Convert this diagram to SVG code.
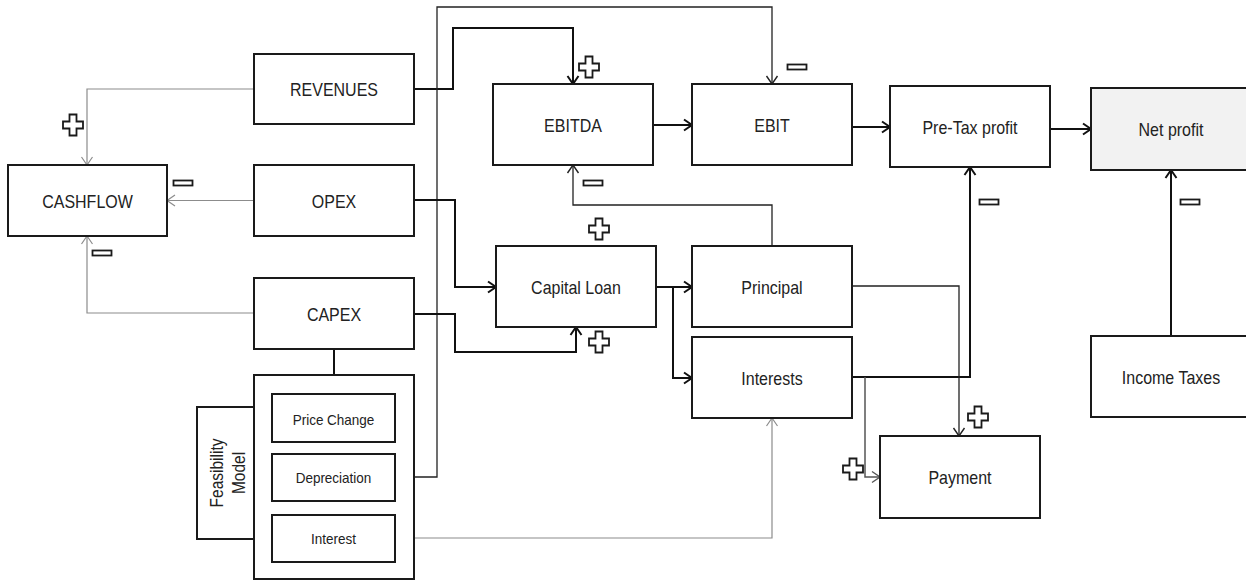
<svg xmlns="http://www.w3.org/2000/svg" width="1246" height="581" viewBox="0 0 1246 581">
  <style>
    .box { fill: #fff; stroke: #1a1a1a; stroke-width: 2; }
    .shade { fill: #f2f2f2; }
    .lbl { font-family: "Liberation Sans", Arial, sans-serif; font-size: 16px; fill: #222; text-anchor: middle; }
    .sm { font-size: 13.5px; }
    .side { font-size: 15.5px; }
    .thick { fill: none; stroke: #111; stroke-width: 2; }
    .thin { fill: none; stroke: #222; stroke-width: 1.3; }
    .mid { fill: none; stroke: #555; stroke-width: 1.5; }
    .grey { fill: none; stroke: #8c8c8c; stroke-width: 1.2; }
    .sign { fill: #fff; stroke: #1a1a1a; stroke-width: 1.8; }
  </style>
  <defs>
    <marker id="ahK" viewBox="-10 -7 12 14" refX="0" refY="0" markerWidth="12" markerHeight="14" orient="auto" markerUnits="userSpaceOnUse">
      <path d="M-8,-5.5 L0,0 L-8,5.5" fill="none" stroke="#111" stroke-width="2"/>
    </marker>
    <marker id="ahT" viewBox="-10 -7 12 14" refX="0" refY="0" markerWidth="12" markerHeight="14" orient="auto" markerUnits="userSpaceOnUse">
      <path d="M-8,-5.5 L0,0 L-8,5.5" fill="none" stroke="#222" stroke-width="1.4"/>
    </marker>
    <marker id="ahM" viewBox="-10 -7 12 14" refX="0" refY="0" markerWidth="12" markerHeight="14" orient="auto" markerUnits="userSpaceOnUse">
      <path d="M-8,-5.5 L0,0 L-8,5.5" fill="none" stroke="#555" stroke-width="1.4"/>
    </marker>
    <marker id="ahG" viewBox="-10 -7 12 14" refX="0" refY="0" markerWidth="12" markerHeight="14" orient="auto" markerUnits="userSpaceOnUse">
      <path d="M-8,-5.5 L0,0 L-8,5.5" fill="none" stroke="#8c8c8c" stroke-width="1.2"/>
    </marker>
    <path id="plus" class="sign" d="M-3.5,-10.5 H3.5 V-3.5 H10 V3.5 H3.5 V10.5 H-3.5 V3.5 H-10 V-3.5 H-3.5 Z"/>
    <rect id="minus" class="sign" x="-9.5" y="-2.5" width="19" height="5"/>
  </defs>

  <rect width="1246" height="581" fill="#fff"/>

  <!-- connectors -->
  <g id="connectors">
    <!-- cash flow feeds (grey) -->
    <path class="grey" d="M254,89 H87 V165" marker-end="url(#ahG)"/>
    <path class="grey" d="M254,200.5 H167" marker-end="url(#ahG)"/>
    <path class="grey" d="M254,313 H87 V236" marker-end="url(#ahG)"/>
    <!-- revenues to EBITDA -->
    <path class="thick" d="M414,89 H453 V28 H573 V84" marker-end="url(#ahK)"/>
    <!-- depreciation to EBIT -->
    <path class="thin" d="M395,477 H437 V7 H772 V84" marker-end="url(#ahT)"/>
    <!-- main profit chain -->
    <path class="thick" d="M653,125 H692" marker-end="url(#ahK)"/>
    <path class="thick" d="M852,127 H890" marker-end="url(#ahK)"/>
    <path class="thick" d="M1050,129 H1091" marker-end="url(#ahK)"/>
    <!-- principal back to EBITDA -->
    <path class="thin" d="M772,246 V205 H573 V165" marker-end="url(#ahT)"/>
    <!-- OPEX / CAPEX into capital loan -->
    <path class="thick" d="M414,200 H455 V287 H496" marker-end="url(#ahK)"/>
    <path class="thick" d="M414,314 H455 V352 H576 V327" marker-end="url(#ahK)"/>
    <!-- capital loan split -->
    <path class="thick" d="M656,287 H692" marker-end="url(#ahK)"/>
    <path class="thick" d="M673,287 V378 H692" marker-end="url(#ahK)"/>
    <!-- interests to pre-tax profit -->
    <path class="thick" d="M852,377 H970 V167" marker-end="url(#ahK)"/>
    <!-- principal to payment -->
    <path class="thin" d="M852,286 H959 V436" marker-end="url(#ahT)"/>
    <!-- interests to payment -->
    <path class="mid" d="M865,377 V477 H880" marker-end="url(#ahM)"/>
    <!-- interest rate to interests -->
    <path class="grey" d="M395,538 H772 V418" marker-end="url(#ahG)"/>
    <!-- income taxes to net profit -->
    <path class="thick" d="M1171,336 V170" marker-end="url(#ahK)"/>
    <!-- CAPEX to feasibility model -->
    <path class="thick" d="M334,349 V375"/>
  </g>

  <!-- polarity signs -->
  <g id="signs">
    <use href="#plus" x="73" y="125"/>
    <use href="#plus" x="589" y="67"/>
    <use href="#plus" x="599" y="229"/>
    <use href="#plus" x="599" y="342"/>
    <use href="#plus" x="978" y="417"/>
    <use href="#plus" x="853" y="469"/>
    <use href="#minus" x="183" y="183"/>
    <use href="#minus" x="102" y="253"/>
    <use href="#minus" x="797" y="67"/>
    <use href="#minus" x="593" y="183"/>
    <use href="#minus" x="989" y="202"/>
    <use href="#minus" x="1190" y="202"/>
  </g>

  <!-- nodes -->
  <g id="revenues">
    <rect class="box" x="254" y="54" width="160" height="70"/>
    <text class="lbl" transform="translate(334 96) scale(1 1.15)">REVENUES</text>
  </g>
  <g id="cashflow">
    <rect class="box" x="8" y="165" width="159" height="71"/>
    <text class="lbl" transform="translate(87.5 207.5) scale(1 1.15)">CASHFLOW</text>
  </g>
  <g id="opex">
    <rect class="box" x="254" y="165" width="160" height="71"/>
    <text class="lbl" transform="translate(334 207.5) scale(1 1.15)">OPEX</text>
  </g>
  <g id="capex">
    <rect class="box" x="254" y="278" width="160" height="71"/>
    <text class="lbl" transform="translate(334 320.5) scale(1 1.15)">CAPEX</text>
  </g>
  <g id="feasibility-model">
    <path class="box" d="M254,407 H197 V539 H254"/>
    <text class="lbl side" transform="translate(223 473) rotate(-90) scale(1 1.15)">Feasibility</text>
    <text class="lbl side" transform="translate(245 473) rotate(-90) scale(1 1.15)">Model</text>
    <rect class="box" x="254" y="375" width="160" height="204"/>
  </g>
  <g id="price-change">
    <rect class="box" x="272" y="394" width="123" height="48"/>
    <text class="lbl sm" transform="translate(333.5 424.5) scale(1 1.15)">Price Change</text>
  </g>
  <g id="depreciation">
    <rect class="box" x="272" y="454" width="123" height="47"/>
    <text class="lbl sm" transform="translate(333.5 483) scale(1 1.15)">Depreciation</text>
  </g>
  <g id="interest">
    <rect class="box" x="272" y="515" width="123" height="47"/>
    <text class="lbl sm" transform="translate(333.5 544) scale(1 1.15)">Interest</text>
  </g>
  <g id="ebitda">
    <rect class="box" x="493" y="84" width="160" height="81"/>
    <text class="lbl" transform="translate(573 132) scale(1 1.15)">EBITDA</text>
  </g>
  <g id="ebit">
    <rect class="box" x="692" y="84" width="160" height="81"/>
    <text class="lbl" transform="translate(772 132) scale(1 1.15)">EBIT</text>
  </g>
  <g id="pre-tax-profit">
    <rect class="box" x="890" y="86" width="160" height="81"/>
    <text class="lbl" transform="translate(970 134) scale(1 1.15)">Pre-Tax profit</text>
  </g>
  <g id="net-profit">
    <rect class="box shade" x="1091" y="88" width="162" height="82"/>
    <text class="lbl" transform="translate(1171 136) scale(1 1.15)">Net profit</text>
  </g>
  <g id="capital-loan">
    <rect class="box" x="496" y="246" width="160" height="81"/>
    <text class="lbl" transform="translate(576 293.5) scale(1 1.15)">Capital Loan</text>
  </g>
  <g id="principal">
    <rect class="box" x="692" y="246" width="160" height="81"/>
    <text class="lbl" transform="translate(772 293.5) scale(1 1.15)">Principal</text>
  </g>
  <g id="interests">
    <rect class="box" x="692" y="337" width="160" height="81"/>
    <text class="lbl" transform="translate(772 384.5) scale(1 1.15)">Interests</text>
  </g>
  <g id="payment">
    <rect class="box" x="880" y="436" width="160" height="82"/>
    <text class="lbl" transform="translate(960 484) scale(1 1.15)">Payment</text>
  </g>
  <g id="income-taxes">
    <rect class="box" x="1091" y="336" width="162" height="81"/>
    <text class="lbl" transform="translate(1171 384) scale(1 1.15)">Income Taxes</text>
  </g>
</svg>
